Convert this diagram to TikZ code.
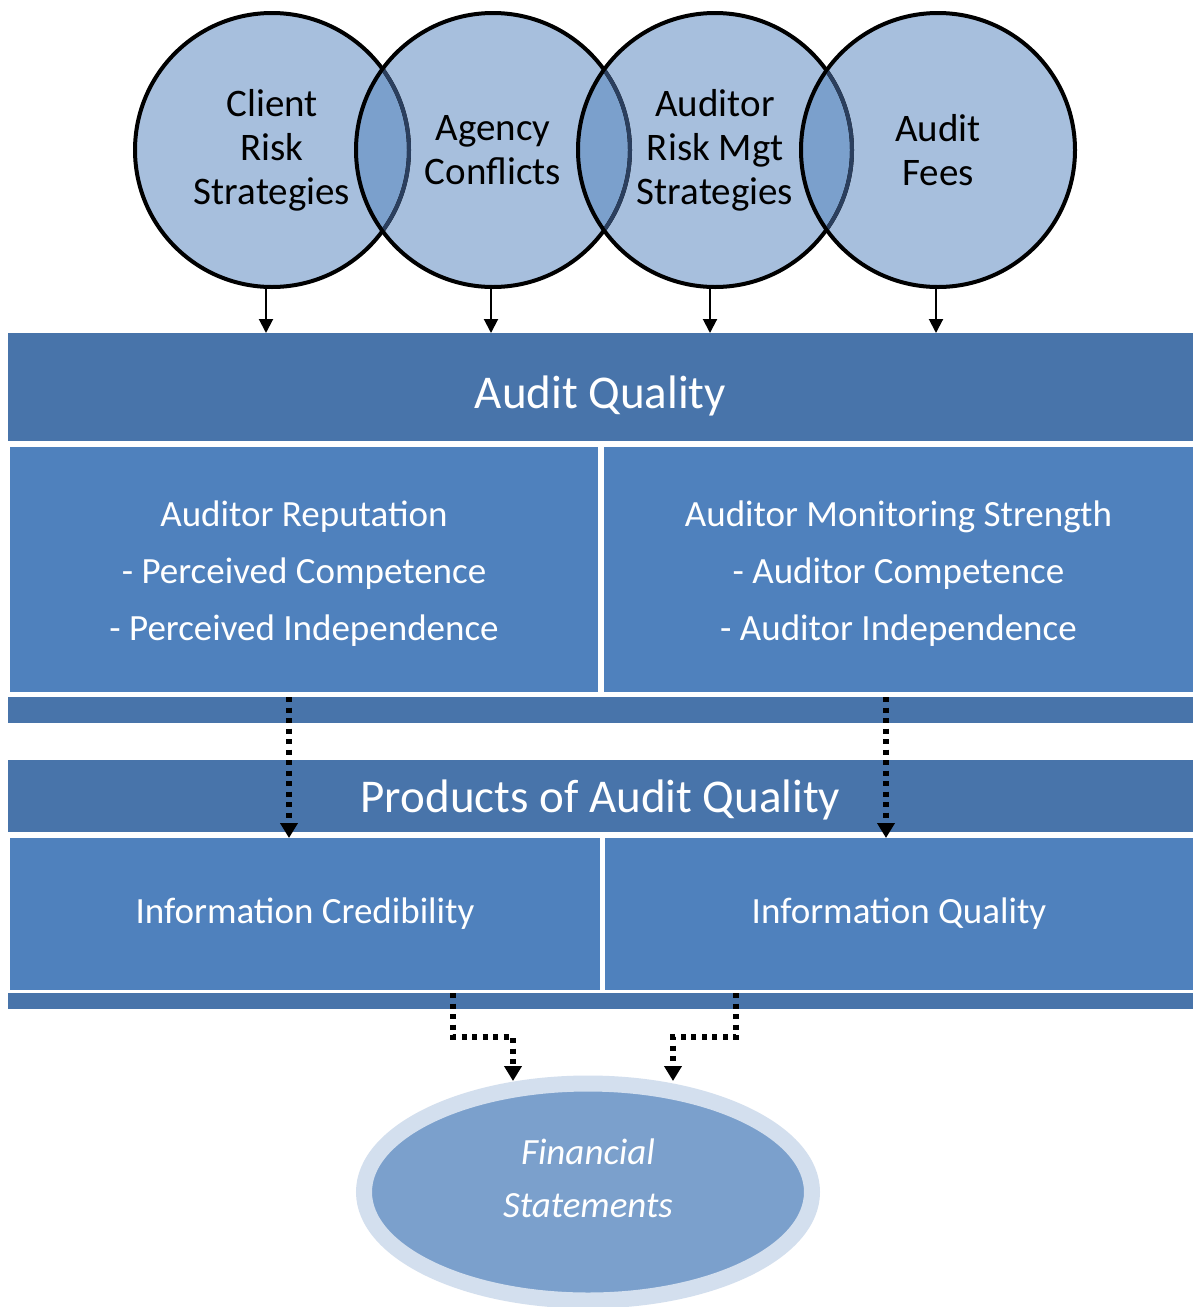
\documentclass[tikz,border=0pt]{standalone}
\usepackage{fontspec}
\setmainfont{Carlito}
\usetikzlibrary{arrows.meta,calc,shapes.geometric}
\definecolor{circfill}{HTML}{A7BFDD}
\definecolor{lensfill}{HTML}{7BA0CC}
\definecolor{lensline}{HTML}{2B3F5E}
\definecolor{bardark}{HTML}{4874AA}
\definecolor{boxblue}{HTML}{4F81BD}
\definecolor{ringlight}{HTML}{D3DFEE}
\definecolor{ellfill}{HTML}{7BA0CC}
\begin{document}
\begin{tikzpicture}[x=1pt,y=-1pt,
  circtext/.style={circle, minimum size=278pt, inner sep=0pt, outer sep=0pt, align=center, text=black, font=\fontsize{39}{44}\selectfont},
  bigbar/.style={rectangle, fill=bardark, anchor=north west, inner sep=0pt, outer sep=0pt, minimum width=1185pt, text=white, text depth=0pt, font=\fontsize{47}{52}\selectfont},
  thinbar/.style={rectangle, fill=bardark, anchor=north west, inner sep=0pt, outer sep=0pt, minimum width=1185pt},
  bluebox/.style={rectangle, fill=boxblue, anchor=north west, inner sep=0pt, outer sep=0pt, align=center, text=white, font=\fontsize{37}{57}\selectfont},
  arr/.style={line width=2pt, -{Triangle[width=14pt,length=14pt]}},
  dotarr/.style={line width=5.5pt, dash pattern=on 5pt off 5.5pt, -{Triangle[width=17pt,length=15pt]}}
]
\useasboundingbox (0,0) rectangle (1193,1307);
\fill[white] (0,0) rectangle (1193,1307);

% circle centres
\coordinate (p1) at (272,150);
\coordinate (p2) at (493,150);
\coordinate (p3) at (715,150);
\coordinate (p4) at (938,150);

% fills
\foreach \p in {p1,p2,p3,p4} \fill[circfill] (\p) circle (137pt);
% lenses
\foreach \a/\b in {p1/p2,p2/p3,p3/p4} {
  \begin{scope}
    \clip (\b) circle (137pt);
    \fill[lensfill] (\a) circle (137pt);
  \end{scope}
}
% outlines
\foreach \p in {p1,p2,p3,p4} \draw[black, line width=4pt] (\p) circle (137pt);
% inner arcs (seen through)
\foreach \a/\b in {p1/p2,p2/p3,p3/p4} {
  \begin{scope}
    \clip (\b) circle (135pt);
    \draw[lensline, line width=4pt] (\a) circle (137pt);
  \end{scope}
}

% circle texts
\node[circtext] (c1) at (p1) {Client\\Risk\\Strategies};
\node[circtext] (c2) at (p2) {Agency\\Conflicts};
\node[circtext] (c3) at (p3) {Auditor\\Risk Mgt\\Strategies};
\node[circtext] (c4) at (p4) {Audit\\Fees};

% bars and boxes
\node[bigbar, minimum height=108pt, text height=42pt] (aq) at (8,333) {Audit Quality};
\node[bluebox, minimum width=588pt, minimum height=245pt] (rep) at (10,447)
  {\rule{0pt}{33pt}Auditor Reputation\\- Perceived Competence\\- Perceived Independence};
\node[bluebox, minimum width=589pt, minimum height=245pt] (mon) at (604,447)
  {\rule{0pt}{33pt}Auditor Monitoring Strength\\- Auditor Competence\\- Auditor Independence};
\node[thinbar, minimum height=26pt] (tb1) at (8,697) {};
\node[bigbar, minimum height=72pt] (paq) at (8,760) {Products of Audit Quality};
\node[bluebox, minimum width=590pt, minimum height=152pt] (cred) at (10,838) {Information Credibility};
\node[bluebox, minimum width=588pt, minimum height=152pt] (qual) at (605,838) {Information Quality};
\node[thinbar, minimum height=16pt] (tb2) at (8,993) {};

% financial statements ellipse
\node[ellipse, draw=ringlight, line width=16pt, fill=ellfill, minimum width=448pt, minimum height=217pt, inner sep=0pt] (fs) at (588,1192) {};
\node[align=center, text=white, font=\fontsize{37}{53}\selectfont\itshape] (fst) at (588,1178) {Financial\\Statements};

% solid arrows
\draw[arr] ([xshift=-6pt]c1.south) -- ([xshift=-6pt]c1.south |- aq.north);
\draw[arr] ([xshift=-2pt]c2.south) -- ([xshift=-2pt]c2.south |- aq.north);
\draw[arr] ([xshift=-5pt]c3.south) -- ([xshift=-5pt]c3.south |- aq.north);
\draw[arr] ([xshift=-2pt]c4.south) -- ([xshift=-2pt]c4.south |- aq.north);

% dotted arrows
\coordinate (dl) at (289,0);
\coordinate (dr) at (886,0);
\draw[dotarr] (dl |- tb1.north) -- (dl |- cred.north);
\draw[dotarr] (dr |- tb1.north) -- (dr |- qual.north);

\coordinate (el1) at (453,0);
\coordinate (el2) at (513,0);
\coordinate (er1) at (736,0);
\coordinate (er2) at (673,0);
\coordinate (ey) at (0,1037);
\coordinate (etip) at (0,1081);
\draw[dotarr] (el1 |- tb2.north) -- (el1 |- ey) -- (el2 |- ey) -- (el2 |- etip);
\draw[dotarr] (er1 |- tb2.north) -- (er1 |- ey) -- (er2 |- ey) -- (er2 |- etip);
\end{tikzpicture}
\end{document}
